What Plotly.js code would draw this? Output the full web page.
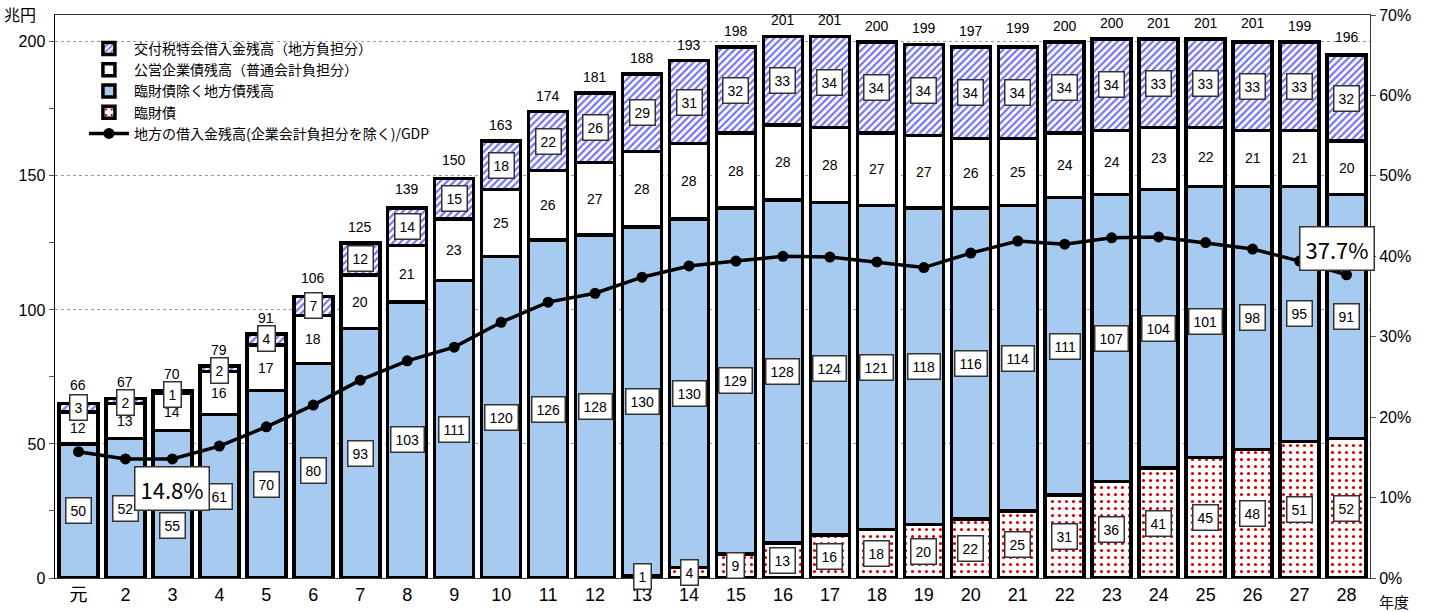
<!DOCTYPE html>
<html><head><meta charset="utf-8">
<script src="https://cdn.plot.ly/plotly-3.0.1.min.js"></script>
<style>html,body{margin:0;padding:0;background:#fff}#chart{width:1436px;height:612px}</style>
</head><body><div id="chart"></div>
<script>
const years = ['元','2','3','4','5','6','7','8','9','10','11','12','13','14','15','16','17','18','19','20','21','22','23','24','25','26','27','28'];
const rinzai = [0,0,0,0,0,0,0,0,0,0,0,0,1,4,9,13,16,18,20,22,25,31,36,41,45,48,51,52];
const chihou = [50,52,55,61,70,80,93,103,111,120,126,128,130,130,129,128,124,121,118,116,114,111,107,104,101,98,95,91];
const kouei = [12,13,14,16,17,18,20,21,23,25,26,27,28,28,28,28,28,27,27,26,25,24,24,23,22,21,21,20];
const koufu = [3,2,1,2,4,7,12,14,15,18,22,26,29,31,32,33,34,34,34,34,34,34,34,33,33,33,33,32];
const totals = [66,67,70,79,91,106,125,139,150,163,174,181,188,193,198,201,201,200,199,197,199,200,200,201,201,201,199,196];
const ratio = [15.7,14.8,14.8,16.4,18.8,21.5,24.6,27.0,28.7,31.8,34.3,35.4,37.4,38.8,39.4,40.0,39.9,39.3,38.6,40.4,41.9,41.5,42.3,42.4,41.7,40.9,39.4,37.7];
const names = ['交付税特会借入金残高（地方負担分）','公営企業債残高（普通会計負担分）','臨財債除く地方債残高','臨財債','地方の借入金残高(企業会計負担分を除く)/GDP'];

const NUM = 'Liberation Sans, Arial, Noto Sans CJK JP, sans-serif';
const JP = 'Noto Sans CJK JP, sans-serif';
const line = {color:'#000', width:3.5};
const W = 0.83;

const traces = [
  {type:'bar', x:years, y:rinzai, name:names[3], width:W, legendrank:4,
   marker:{color:'#fff', line:line, pattern:{shape:'.', fgcolor:'#d40000', bgcolor:'#fff', size:7, solidity:0.16}}},
  {type:'bar', x:years, y:chihou, name:names[2], width:W, legendrank:3,
   marker:{color:'#a6caf0', line:line}},
  {type:'bar', x:years, y:kouei, name:names[1], width:W, legendrank:2,
   marker:{color:'#fff', line:line}},
  {type:'bar', x:years, y:koufu, name:names[0], width:W, legendrank:1,
   marker:{color:'#fff', line:line, pattern:{shape:'/', fgcolor:'#7474f0', bgcolor:'#fff', size:5, solidity:0.45}}},
  {type:'scatter', mode:'lines+markers', x:years, y:ratio.map(v=>v/100), yaxis:'y2', name:names[4], legendrank:5,
   line:{color:'#000', width:3.5}, marker:{color:'#000', size:11}}
];

const ann = [];
function boxed(x, y, t, ys){
  ann.push({x:x, y:y, xref:'x', yref:'y', yshift:ys||0, text:t, showarrow:false,
    font:{family:NUM, size:14, color:'#000'}, bgcolor:'#fff', bordercolor:'#333', borderwidth:1.5, borderpad:4});
}
years.forEach((c,i)=>{
  const r = rinzai[i], b = chihou[i], k = kouei[i], f = koufu[i];
  if (r > 0) boxed(i, r/2, String(r));
  boxed(i, r + b/2, String(b), i === 2 ? -21 : 0);
  ann.push({x:i, y:r+b+k/2, xref:'x', yref:'y', text:String(k), showarrow:false,
    font:{family:NUM, size:14, color:'#000'}});
  const top = r+b+k+f;
  boxed(i, f < 5 ? top - 1.5 : r+b+k+f/2, String(f));
  ann.push({x:i, y:Math.max(top, totals[i]), xref:'x', yref:'y', yanchor:'bottom', yshift:6, text:String(totals[i]), showarrow:false,
    font:{family:NUM, size:14, color:'#000'}});
});
ann.push({x:2, y:ratio[2]/100, xref:'x', yref:'y2', yshift:-30, text:ratio[2].toFixed(1)+'%', showarrow:false,
  font:{family:JP, size:22, color:'#000'}, bgcolor:'#fff', bordercolor:'#333', borderwidth:1.5, borderpad:5});
ann.push({x:27, y:ratio[27]/100, xref:'x', yref:'y2', xshift:-10, yshift:26, text:ratio[27].toFixed(1)+'%', showarrow:false,
  font:{family:JP, size:22, color:'#000'}, bgcolor:'#fff', bordercolor:'#333', borderwidth:1.5, borderpad:5});
ann.push({x:0, y:1, xref:'paper', yref:'paper', xanchor:'right', yanchor:'middle', xshift:-17, yshift:1, text:'兆円', showarrow:false,
  font:{family:JP, size:16, color:'#000'}});
ann.push({x:1, y:0, xref:'paper', yref:'paper', xanchor:'left', yanchor:'top', xshift:7, yshift:-11, text:'年度', showarrow:false,
  font:{family:JP, size:15, color:'#000'}});

const layout = {
  width:1436, height:612,
  margin:{l:55, r:66, t:15, b:34},
  barmode:'stack',
  paper_bgcolor:'#fff', plot_bgcolor:'#fff',
  showlegend:true,
  legend:{x:0.022, y:0.968, xanchor:'left', yanchor:'top', bgcolor:'rgba(255,255,255,0)', traceorder:'normal',
    font:{family:JP, size:14, color:'#000'}, tracegroupgap:0, itemwidth:40},
  xaxis:{type:'category', showline:true, linecolor:'#333', linewidth:1, mirror:true, ticks:'',
    tickfont:{family:NUM, size:18, color:'#000'}, range:[-0.5,27.5], fixedrange:true},
  yaxis:{range:[0,210], tickvals:[0,50,100,150,200], showline:true, linecolor:'#000', linewidth:1.5,
    ticks:'outside', ticklen:5, tickcolor:'#555',
    showgrid:true, gridcolor:'#999', griddash:'dot', gridwidth:1, zeroline:false,
    minor:{tickvals:[25,75,125,175], ticks:'outside', ticklen:5, tickcolor:'#555', showgrid:false},
    tickfont:{family:NUM, size:16, color:'#000'}},
  yaxis2:{overlaying:'y', side:'right', range:[0,0.7], dtick:0.1, tickformat:'.0%', showline:true, linecolor:'#333',
    linewidth:1, ticks:'outside', ticklen:5, tickcolor:'#555', showgrid:false, zeroline:false,
    tickfont:{family:NUM, size:16, color:'#000'}},
  annotations:ann
};
Plotly.newPlot('chart', traces, layout, {displayModeBar:false, staticPlot:true});
</script></body></html>
